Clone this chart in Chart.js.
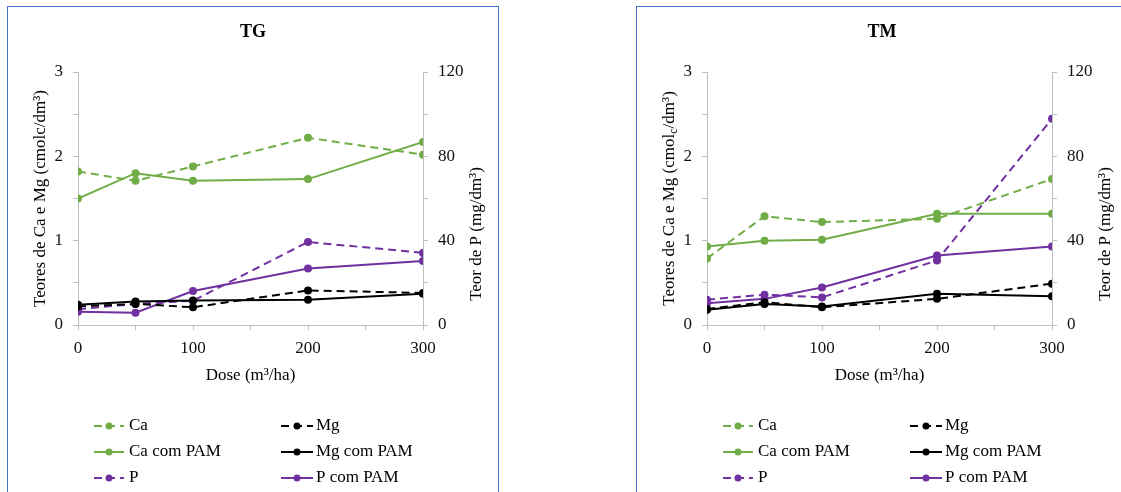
<!DOCTYPE html>
<html>
<head>
<meta charset="utf-8">
<script src="https://cdn.jsdelivr.net/npm/chart.js@4.4.0/dist/chart.umd.min.js"></script>
<style>
    body { margin: 0; background: #fff; overflow: hidden; width: 1121px; height: 492px; position: relative; }
    .panel { position: absolute; top: 6px; width: 490px; height: 500px; border: 1px solid #4472c4; background: #fff; }
    .panel canvas { position: absolute; left: 0; top: 0; }
</style>
</head>
<body>
<div class="panel" style="left:7px"><canvas id="tg" width="490" height="486"></canvas></div>
<div class="panel" style="left:636px"><canvas id="tm" width="490" height="486"></canvas></div>
<script>
// doses (m³/ha)
const doses = [0, 50, 100, 200, 300];

// TG
const tgCa = [1.82, 1.71, 1.88, 2.22, 2.02];
const tgCaPam = [1.50, 1.80, 1.71, 1.73, 2.17];
const tgMg = [0.22, 0.25, 0.21, 0.41, 0.38];
const tgMgPam = [0.24, 0.28, 0.29, 0.30, 0.37];
const tgP = [7.5, 10, 11.5, 39.4, 34.2];
const tgPPam = [6.3, 5.8, 16.1, 26.8, 30.4];

// TM
const tmCa = [0.79, 1.29, 1.22, 1.26, 1.73];
const tmCaPam = [0.93, 1.00, 1.01, 1.32, 1.32];
const tmMg = [0.19, 0.27, 0.21, 0.31, 0.49];
const tmMgPam = [0.18, 0.25, 0.22, 0.37, 0.34];
const tmP = [12, 14.4, 13.1, 30.6, 97.8];
const tmPPam = [10.3, 12.4, 17.8, 33, 37.2];

const seriesNames = ['Ca', 'Mg', 'Ca com PAM', 'Mg com PAM', 'P', 'P com PAM'];
const leftTicks = [0, 1, 2, 3];
const rightTicks = [0, 40, 80, 120];
const doseTicks = [0, 100, 200, 300];

const GREEN = '#70ad47';
const BLACK = '#000000';
const PURPLE = '#7030a0';
const AXIS = '#bfbfbf';
const FONT = "'Liberation Serif', 'Times New Roman', serif";
const FS = 17;
const DASH = [8, 5];

const makeSet = (label, values, color, dashed, axis) => ({
    label: label,
    data: values.map((v, i) => ({ x: doses[i], y: v })),
    borderColor: color,
    backgroundColor: color,
    borderWidth: 2,
    borderDash: dashed ? DASH : [],
    pointRadius: 4,
    pointHoverRadius: 4,
    pointBorderWidth: 0,
    yAxisID: axis,
    tension: 0,
});

// titulos dos eixos Y e legenda desenhados a mao
const extrasPlugin = {
    id: 'extras',
    afterDraw(chart, args, opts) {
        const ctx = chart.ctx;
        ctx.save();
        ctx.fillStyle = '#000';
        ctx.textBaseline = 'middle';

        const drawRotated = (parts, cx, cy) => {
            ctx.save();
            ctx.translate(cx, cy);
            ctx.rotate(-Math.PI / 2);
            let total = 0;
            parts.forEach(p => {
                ctx.font = (p.sub ? '12px ' : FS + 'px ') + FONT;
                total += ctx.measureText(p.t).width;
            });
            let x = -total / 2;
            ctx.textAlign = 'left';
            parts.forEach(p => {
                ctx.font = (p.sub ? '12px ' : FS + 'px ') + FONT;
                ctx.fillText(p.t, x, p.sub ? 4 : 0);
                x += ctx.measureText(p.t).width;
            });
            ctx.restore();
        };

        const yl = chart.scales.y;
        drawRotated(opts.leftTitle, 33, (yl.top + yl.bottom) / 2);
        drawRotated([{ t: 'Teor de P (mg/dm³)' }], 469, 227);

        // legenda em duas colunas
        const cols = [{ x0: 86, x1: 116, tx: 121 }, { x0: 273, x1: 305, tx: 308 }];
        const rows = [419, 445, 471];
        ctx.font = FS + 'px ' + FONT;
        chart.data.datasets.forEach((ds, i) => {
            const c = cols[i % 2];
            const y = rows[Math.floor(i / 2)];
            ctx.strokeStyle = ds.borderColor;
            ctx.lineWidth = 2;
            ctx.setLineDash(ds.borderDash);
            ctx.beginPath();
            ctx.moveTo(c.x0, y);
            ctx.lineTo(c.x1, y);
            ctx.stroke();
            ctx.setLineDash([]);
            ctx.fillStyle = ds.backgroundColor;
            ctx.beginPath();
            ctx.arc((c.x0 + c.x1) / 2, y, 3.5, 0, Math.PI * 2);
            ctx.fill();
            ctx.fillStyle = '#000';
            ctx.textAlign = 'left';
            ctx.fillText(ds.label, c.tx, y);
        });
        ctx.restore();
    }
};

const makeChart = (id, title, leftTitle, ca, mg, caPam, mgPam, p, pPam) => {
    const datasets = [
        makeSet(seriesNames[0], ca, GREEN, true, 'y'),
        makeSet(seriesNames[1], mg, BLACK, true, 'y'),
        makeSet(seriesNames[2], caPam, GREEN, false, 'y'),
        makeSet(seriesNames[3], mgPam, BLACK, false, 'y'),
        makeSet(seriesNames[4], p, PURPLE, true, 'y1'),
        makeSet(seriesNames[5], pPam, PURPLE, false, 'y1'),
    ];
    const gridOpts = { drawOnChartArea: false, drawTicks: true, tickLength: 5, color: AXIS };
    const tickFont = { family: FONT, size: FS };
    return new Chart(document.getElementById(id), {
        type: 'line',
        data: { datasets: datasets },
        plugins: [extrasPlugin],
        options: {
            responsive: false,
            animation: false,
            devicePixelRatio: 1,
            layout: { padding: { left: 0, right: 0, top: 0, bottom: 106 } },
            plugins: {
                legend: { display: false },
                tooltip: { enabled: false },
                title: {
                    display: true,
                    text: title,
                    color: '#000',
                    font: { family: FONT, size: 18, weight: 'bold' },
                    padding: { top: 15, bottom: 28.4 },
                },
                extras: { leftTitle: leftTitle },
            },
            scales: {
                x: {
                    type: 'linear',
                    min: 0, max: 300,
                    ticks: {
                        stepSize: 50, autoSkip: false, maxRotation: 0, padding: 8,
                        color: '#111', font: tickFont,
                        callback: v => doseTicks.includes(v) ? v : '',
                    },
                    grid: gridOpts,
                    border: { color: AXIS },
                    title: {
                        display: true, text: 'Dose (m³/ha)', color: '#000',
                        font: { family: FONT, size: FS }, padding: { top: 0, bottom: 1 },
                    },
                    afterFit: s => { s.height = 62; },
                },
                y: {
                    position: 'left',
                    min: 0, max: 3,
                    ticks: {
                        stepSize: 0.5, autoSkip: false, padding: 10,
                        color: '#111', font: tickFont,
                        callback: v => leftTicks.includes(v) ? v : '',
                    },
                    grid: gridOpts,
                    border: { color: AXIS },
                    afterFit: s => { s.width = 70; },
                },
                y1: {
                    position: 'right',
                    min: 0, max: 120,
                    ticks: {
                        stepSize: 20, autoSkip: false, padding: 10,
                        color: '#111', font: tickFont,
                        callback: v => rightTicks.includes(v) ? v : '',
                    },
                    grid: gridOpts,
                    border: { color: AXIS },
                    afterFit: s => { s.width = 75; },
                },
            },
        },
    });
};

makeChart('tg', 'TG', [{ t: 'Teores de Ca e Mg (cmolc/dm³)' }],
    tgCa, tgMg, tgCaPam, tgMgPam, tgP, tgPPam);
makeChart('tm', 'TM', [{ t: 'Teores de Ca e Mg (cmol' }, { t: 'c', sub: true }, { t: '/dm³)' }],
    tmCa, tmMg, tmCaPam, tmMgPam, tmP, tmPPam);
</script>
</body>
</html>
